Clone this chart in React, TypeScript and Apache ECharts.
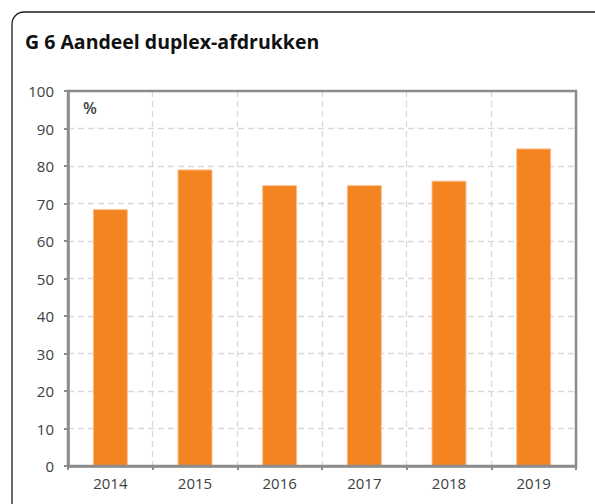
import React, { useEffect, useRef } from "react";
import * as echarts from "echarts";

const categories = ["2014", "2015", "2016", "2017", "2018", "2019"];
const shares = [68.5, 79.1, 74.9, 74.9, 76.1, 84.7];
const yTicks = { min: 0, max: 100, interval: 10 };
const title = "G 6 Aandeel duplex-afdrukken";
const unitLabel = "%";

const GRID = { left: 68, right: 19, top: 91, bottom: 38 };
const W = 595;
const H = 504;

export default function App() {
  const ref = useRef<HTMLDivElement>(null);
  useEffect(() => {
    if (!ref.current) return;
    const chart = echarts.init(ref.current, null, { renderer: "svg" });
    const font = "'Open Sans', 'DejaVu Sans', sans-serif";
    chart.setOption({
      animation: false,
      backgroundColor: "#ffffff",
      textStyle: { fontFamily: font },
      graphic: [
        {
          type: "rect",
          z: -10,
          shape: { x: 12, y: 12, width: 640, height: 600, r: 12 },
          style: { fill: "none", stroke: "#1a1a1a", lineWidth: 1.3 },
        },
        {
          type: "rect",
          z: 100,
          silent: true,
          shape: {
            x: GRID.left,
            y: GRID.top,
            width: W - GRID.left - GRID.right,
            height: H - GRID.top - GRID.bottom,
          },
          style: { fill: "none", stroke: "#8c8c8c", lineWidth: 2.5 },
        },
        {
          type: "text",
          left: 25,
          top: 31,
          style: {
            text: title,
            font: "bold 19.5px 'Open Sans', 'DejaVu Sans', sans-serif",
            fill: "#111111",
          },
        },
        {
          type: "text",
          left: 83,
          top: 100,
          style: {
            text: unitLabel,
            font: "600 16px 'Open Sans', 'DejaVu Sans', sans-serif",
            fill: "#404040",
          },
        },
      ],
      grid: {
        ...GRID,
        show: false,
        containLabel: false,
      },
      xAxis: {
        type: "category",
        data: categories,
        boundaryGap: true,
        axisLine: { show: true, lineStyle: { color: "#8c8c8c", width: 2.5 } },
        axisTick: { show: true, alignWithLabel: false, length: 4, lineStyle: { color: "#8c8c8c", width: 2 } },
        axisLabel: { color: "#404040", fontSize: 15, fontFamily: font, margin: 9 },
        splitLine: { show: true, lineStyle: { color: "#d9d9d9", type: [6, 4], width: 1.3 } },
      },
      yAxis: {
        type: "value",
        min: yTicks.min,
        max: yTicks.max,
        interval: yTicks.interval,
        axisLine: { show: true, lineStyle: { color: "#8c8c8c", width: 2.5 } },
        axisTick: { show: true, length: 4, lineStyle: { color: "#8c8c8c", width: 2 } },
        axisLabel: { color: "#404040", fontSize: 15, fontFamily: font, margin: 14 },
        splitLine: { show: true, lineStyle: { color: "#d9d9d9", type: [6, 4], width: 1.3 } },
      },
      series: [
        {
          type: "bar",
          data: shares,
          barWidth: 35,
          itemStyle: { color: "#F48422", borderColor: "#FBC08F", borderWidth: 1 },
        },
      ],
    });
    return () => chart.dispose();
  }, []);
  return (
    <div
      ref={ref}
      style={{ position: "fixed", left: 0, top: 0, width: W, height: H }}
    />
  );
}
